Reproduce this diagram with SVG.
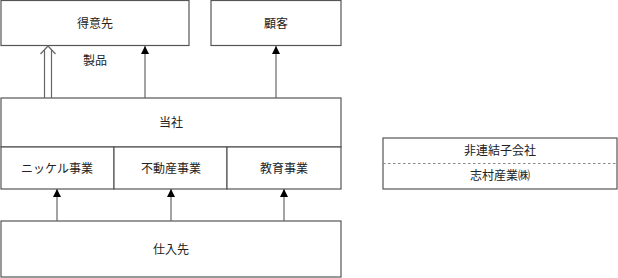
<svg xmlns="http://www.w3.org/2000/svg" width="618" height="278" viewBox="0 0 618 278">
<defs>
<style>
.box{fill:#fff;stroke:#555;stroke-width:1.2}
.ln{stroke:#666;stroke-width:1.2;fill:none}
.dash{stroke:#888;stroke-width:1.2;stroke-dasharray:2.5,2.5;fill:none}
text{font-family:"Liberation Serif","Noto Sans CJK JP",serif;font-size:12px;fill:#222;text-anchor:middle;dominant-baseline:central}
</style>
<marker id="tri" markerWidth="8" markerHeight="8" refX="8" refY="4" orient="auto" markerUnits="userSpaceOnUse">
<path d="M0,0 L8,4 L0,8 Z" fill="#000"/>
</marker>
</defs>
<rect width="618" height="278" fill="#fff"/>
<g id="tokuisaki"><rect class="box" x="1" y="0.5" width="188" height="45"/><text x="95" y="24">得意先</text></g>
<g id="kokyaku"><rect class="box" x="211" y="0.5" width="130" height="45"/><text x="276" y="24">顧客</text></g>
<g id="tousha"><rect class="box" x="1" y="98" width="340" height="49"/><text x="171" y="123">当社</text></g>
<g id="nickel"><rect class="box" x="1" y="147" width="113" height="42"/><text x="57" y="169">ニッケル事業</text></g>
<g id="fudousan"><rect class="box" x="114" y="147" width="113" height="42"/><text x="171" y="169">不動産事業</text></g>
<g id="kyouiku"><rect class="box" x="227" y="147" width="114" height="42"/><text x="284" y="169">教育事業</text></g>
<g id="shiiresaki"><rect class="box" x="1" y="221" width="340" height="56"/><text x="171" y="250">仕入先</text></g>
<g id="hirenketsu"><rect class="box" x="383" y="138" width="234" height="51"/><line class="dash" x1="383" y1="163.5" x2="617" y2="163.5"/><text x="500" y="151">非連結子会社</text><text x="500" y="176">志村産業㈱</text></g>
<g id="connectors">
<line class="ln" x1="44.5" y1="98" x2="44.5" y2="50"/>
<line class="ln" x1="51.5" y1="98" x2="51.5" y2="50"/>
<polyline class="ln" points="40.5,54 48,46 55.5,54"/>
<text x="95" y="61">製品</text>
<line class="ln" x1="145" y1="98" x2="145" y2="46" marker-end="url(#tri)"/>
<line class="ln" x1="276" y1="98" x2="276" y2="46" marker-end="url(#tri)"/>
<line class="ln" x1="57" y1="221" x2="57" y2="189" marker-end="url(#tri)"/>
<line class="ln" x1="171" y1="221" x2="171" y2="189" marker-end="url(#tri)"/>
<line class="ln" x1="284" y1="221" x2="284" y2="189" marker-end="url(#tri)"/>
</g>
</svg>
